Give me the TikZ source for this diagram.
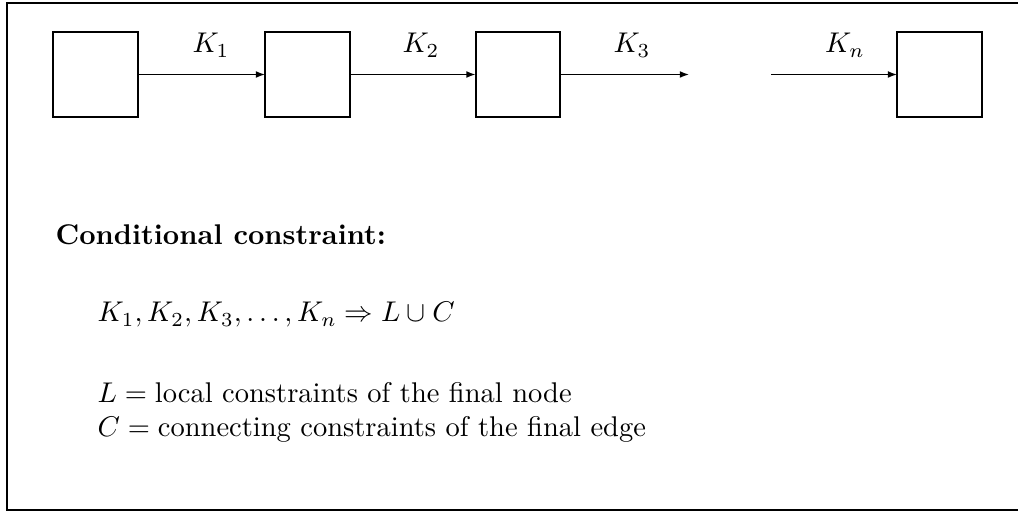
\documentclass[tikz,border=0pt]{standalone}
\usetikzlibrary{arrows.meta}
\begin{document}
\begin{tikzpicture}[x=0.3509pt,y=-0.3509pt,
  stagebox/.style={draw,line width=0.7pt,minimum width=29.8pt,minimum height=29.8pt,inner sep=0pt,outer sep=0pt},
  arr/.style={line width=0.5pt,-{Latex[length=3.2pt,width=2.4pt]}},
  lbl/.style={anchor=base,inner sep=0pt,font=\fontsize{10}{12}\selectfont},
  txt/.style={anchor=base west,inner sep=0pt,font=\fontsize{10}{12}\selectfont}]
\useasboundingbox (0,0) rectangle (1018,514);
% frame
\draw[line width=0.65pt] (1018,3) -- (7,3) -- (7,510) -- (1018,510);
% boxes
\node[stagebox] (b1) at (95.5,74.5) {};
\node[stagebox] (b2) at (307.5,74.5) {};
\node[stagebox] (b3) at (518,74.5) {};
\node[stagebox] (b4) at (939.5,74.5) {};
\coordinate (e3) at (689,74.5);
\coordinate (sn) at (771,74.5);
% arrows
\draw[arr] (b1.east) -- (b2.west);
\draw[arr] (b2.east) -- (b3.west);
\draw[arr] (b3.east) -- (e3);
\draw[arr] (sn) -- (b4.west);
% labels
\node[lbl] (k1) at (211,53) {$K_1$};
\node[lbl] (k2) at (421,53) {$K_2$};
\node[lbl] (k3) at (632,53) {$K_3$};
\node[lbl] (kn) at (845,53) {$K_n$};
% text
\node[txt] (title) at (55,245) {\textbf{Conditional constraint:}};
\node[txt] (rule) at (97,322) {$K_1, K_2, K_3, \ldots, K_n \Rightarrow L \cup C$};
\node[txt] (defL) at (97,403) {$L=\mbox{local constraints of the final node}$};
\node[txt] (defC) at (97,437) {$C=\mbox{connecting constraints of the final edge}$};
\end{tikzpicture}
\end{document}
